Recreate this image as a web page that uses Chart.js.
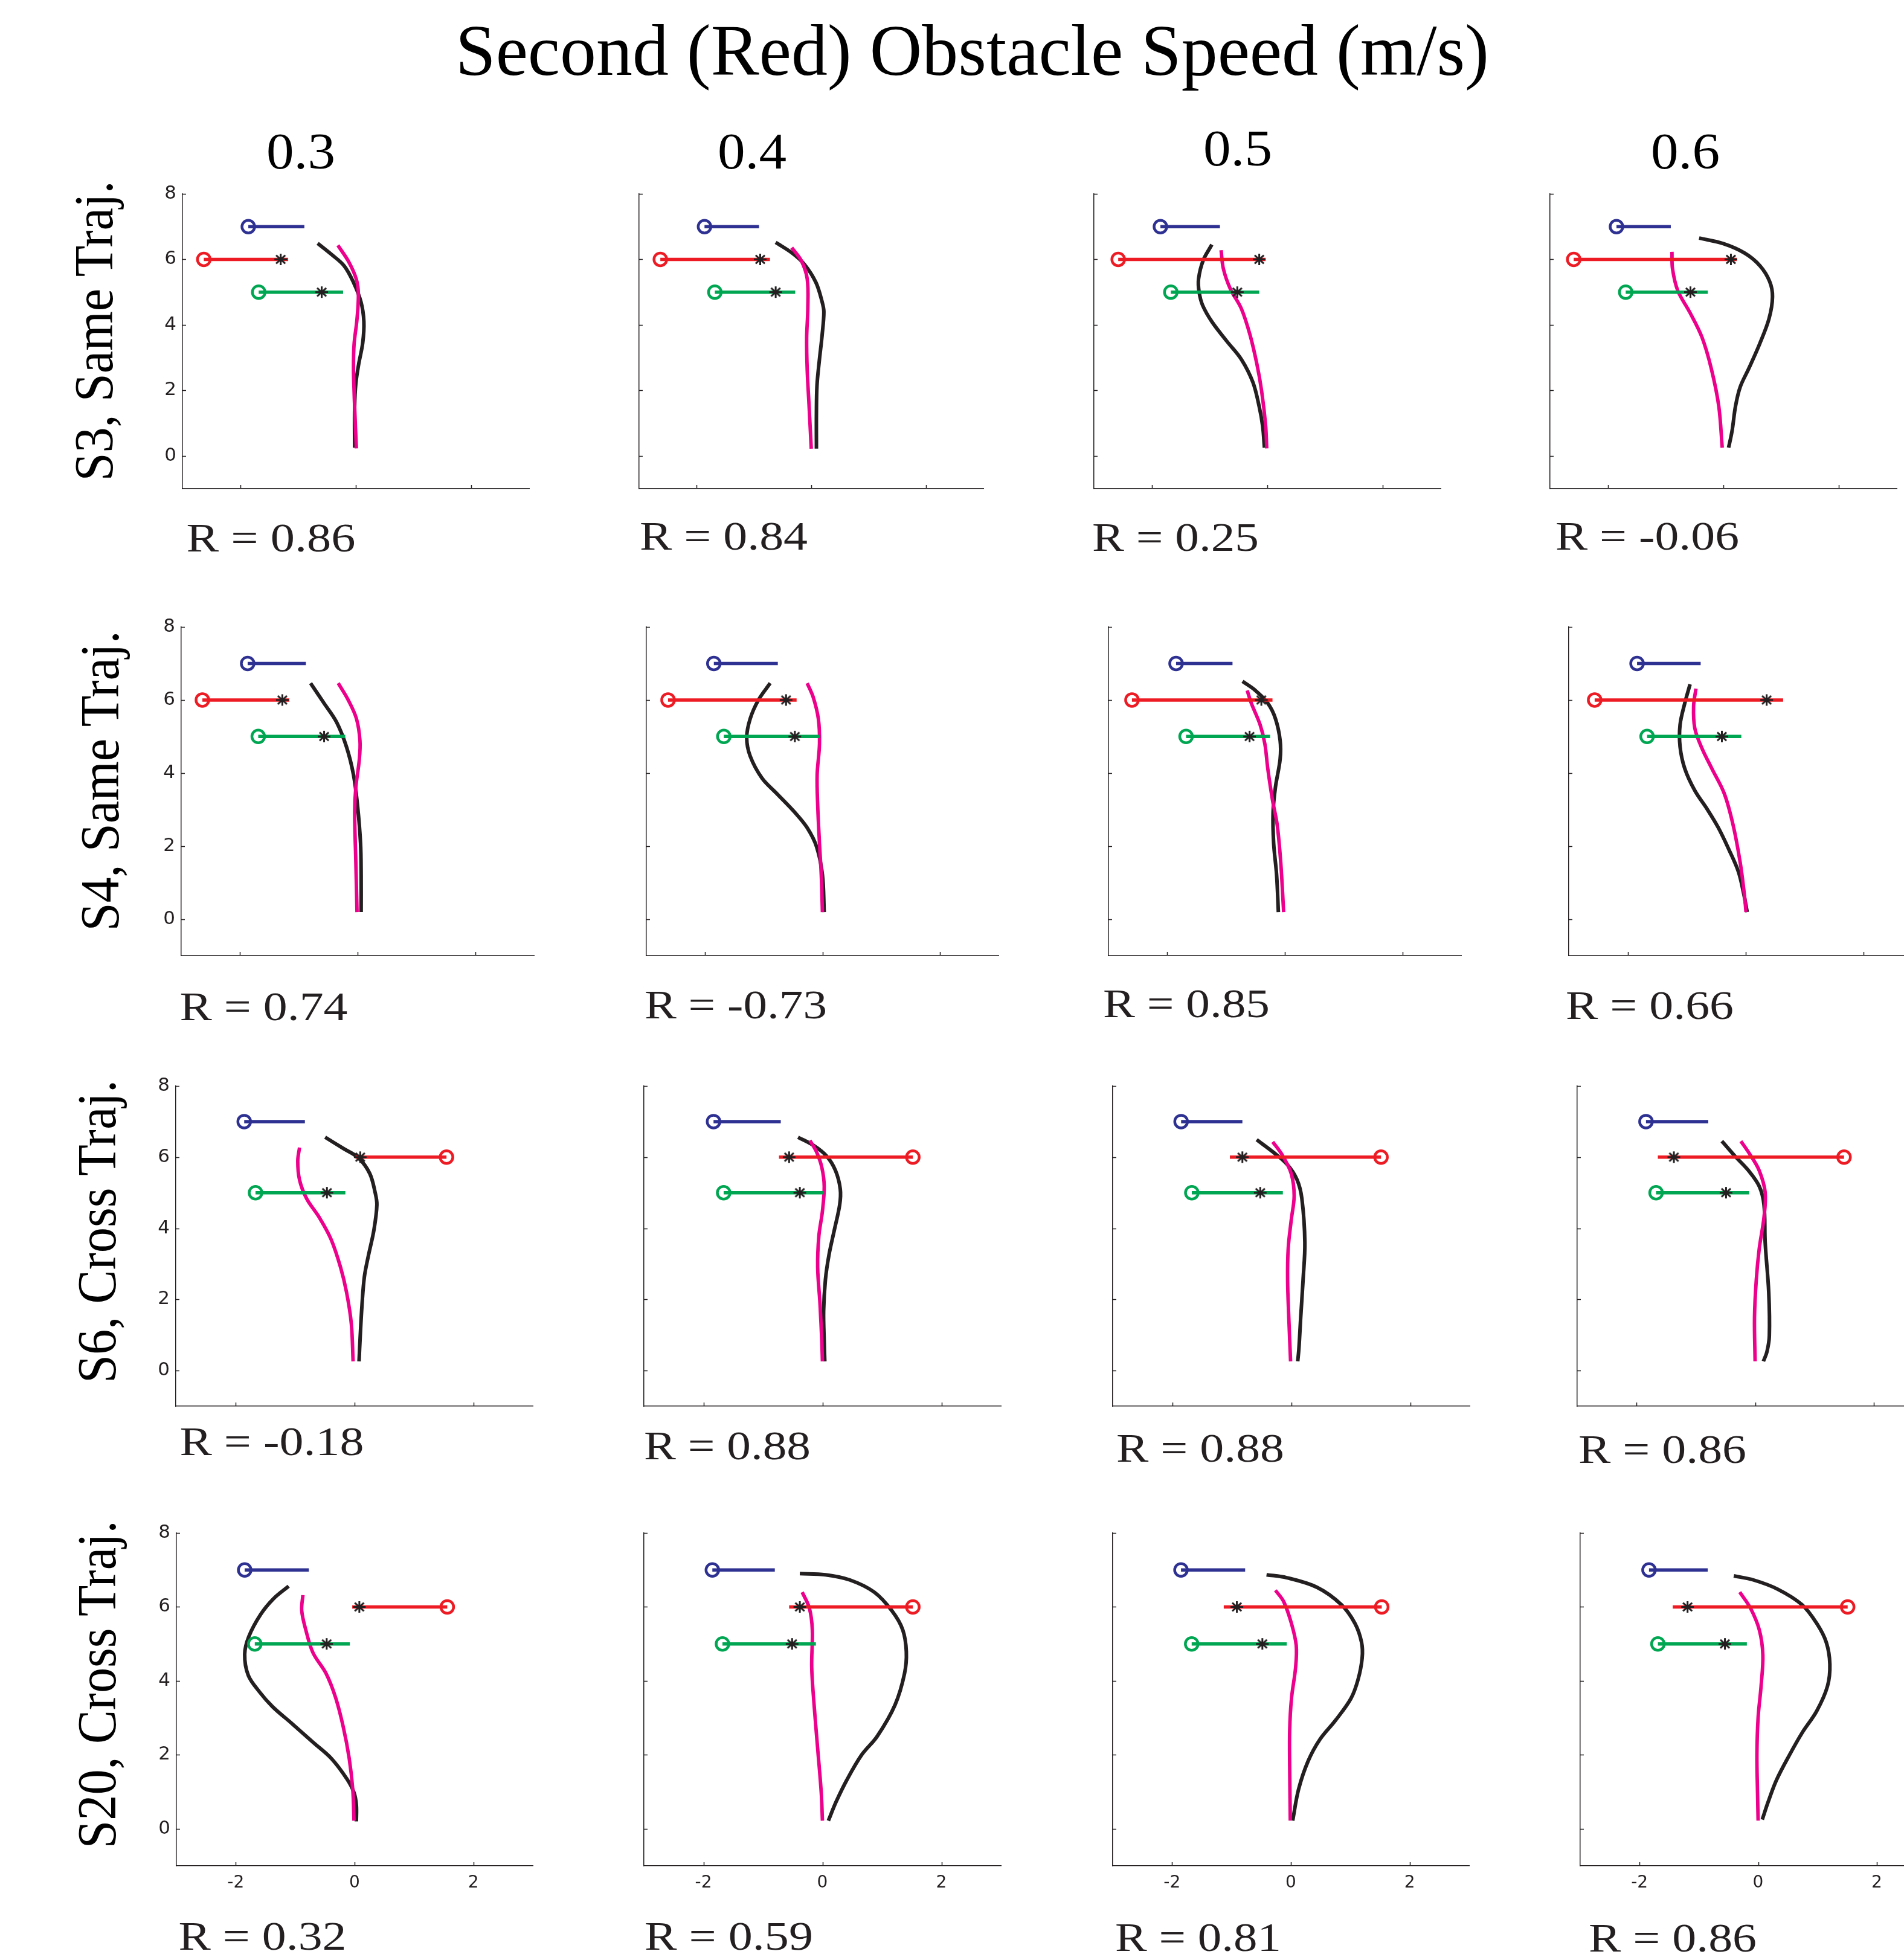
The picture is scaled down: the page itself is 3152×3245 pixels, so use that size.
<!DOCTYPE html>
<html lang="en">
<head>
<meta charset="utf-8">
<title>Second (Red) Obstacle Speed (m/s)</title>
<script src="https://cdn.jsdelivr.net/npm/chart.js@4.4.1/dist/chart.umd.min.js"></script>
<style>
  html, body { margin: 0; padding: 0; background: #fff; }
  body { position: relative; width: 3152px; height: 3245px; overflow: hidden; }
  canvas.panel { position: absolute; }
  #labels { position: absolute; left: 0; top: 0; pointer-events: none; }
  #labels text { font-family: "Liberation Serif", "Times New Roman", serif; }
</style>
</head>
<body>
<svg id="labels" width="3152" height="3245" xmlns="http://www.w3.org/2000/svg"></svg>
<script>
// ---- data (panels in reading order: row = subject, column = speed) ----
const speeds = ['0.3', '0.4', '0.5', '0.6'];
const subjects = ['S3, Same Traj.', 'S4, Same Traj.', 'S6, Cross Traj.', 'S20, Cross Traj.'];
const rValues = ['0.86', '0.84', '0.25', '-0.06',
                 '0.74', '-0.73', '0.85', '0.66',
                 '-0.18', '0.88', '0.88', '0.86',
                 '0.32', '0.59', '0.81', '0.86'];

const xTicks = [-2, 0, 2];
const xTickLabels = ['-2', '0', '2'];
const yTicks = [0, 2, 4, 6, 8];
const yTickLabels = ['0', '2', '4', '6', '8'];

// obstacles: circle end (start) and other end, star = crossing point
const blueStart = [-1.86, -1.86, -1.85, -1.85, -1.87, -1.85, -1.85, -1.84, -1.85, -1.83, -1.85, -1.84, -1.85, -1.85, -1.85, -1.84];
const blueEnd = [-0.89, -0.91, -0.82, -0.91, -0.88, -0.76, -0.89, -0.76, -0.83, -0.70, -0.82, -0.79, -0.77, -0.80, -0.77, -0.85];
const redStart = [-2.63, -2.63, -2.58, -2.59, -2.64, -2.63, -2.60, -2.56, 1.55, 1.52, 1.51, 1.50, 1.56, 1.52, 1.53, 1.51];
const redEnd = [-1.17, -0.72, -0.03, 0.23, -1.16, -0.44, -0.21, 0.64, 0.02, -0.73, -1.03, -1.64, -0.04, -0.56, -1.13, -1.44];
const redStar = [-1.30, -0.89, -0.14, 0.13, -1.28, -0.62, -0.40, 0.36, 0.10, -0.56, -0.82, -1.37, 0.08, -0.38, -0.91, -1.19];
const greenStart = [-1.68, -1.68, -1.67, -1.69, -1.69, -1.68, -1.68, -1.67, -1.66, -1.66, -1.67, -1.67, -1.68, -1.68, -1.67, -1.69];
const greenEnd = [-0.22, -0.28, -0.14, -0.27, -0.21, -0.05, -0.25, -0.07, -0.15, 0.02, -0.14, -0.10, -0.08, -0.11, -0.07, -0.19];
const greenStar = [-0.59, -0.62, -0.52, -0.57, -0.57, -0.47, -0.60, -0.40, -0.46, -0.38, -0.52, -0.49, -0.47, -0.51, -0.48, -0.56];

// black trajectories, [x, y]
const blackPaths = [
  [[-0.66, 6.49], [-0.42, 6.15], [-0.2, 5.8], [-0.04, 5.3], [0.09, 4.7], [0.14, 4.1], [0.12, 3.45], [0.05, 2.8], [0.0, 2.2], [-0.02, 1.5], [-0.02, 0.25]],
  [[-0.62, 6.52], [-0.33, 6.19], [-0.12, 5.85], [0.08, 5.3], [0.19, 4.7], [0.22, 4.4], [0.19, 3.7], [0.14, 2.9], [0.1, 2.15], [0.09, 1.3], [0.09, 0.22]],
  [[-0.96, 6.45], [-1.11, 5.97], [-1.19, 5.4], [-1.18, 5.0], [-1.12, 4.6], [-0.96, 4.1], [-0.7, 3.5], [-0.45, 2.95], [-0.25, 2.25], [-0.14, 1.5], [-0.08, 0.9], [-0.05, 0.25]],
  [[-0.42, 6.65], [0.0, 6.48], [0.37, 6.19], [0.63, 5.81], [0.8, 5.33], [0.85, 4.86], [0.79, 4.19], [0.63, 3.43], [0.44, 2.67], [0.29, 2.1], [0.21, 1.52], [0.15, 0.76], [0.09, 0.25]],
  [[-0.8, 6.46], [-0.57, 5.91], [-0.36, 5.4], [-0.19, 4.72], [-0.07, 3.95], [0.0, 3.09], [0.05, 2.07], [0.06, 1.21], [0.06, 0.19]],
  [[-0.89, 6.46], [-1.09, 6.0], [-1.23, 5.49], [-1.29, 4.97], [-1.23, 4.46], [-1.03, 3.86], [-0.78, 3.44], [-0.47, 2.92], [-0.26, 2.5], [-0.1, 1.98], [0.0, 1.21], [0.03, 0.19]],
  [[-0.72, 6.51], [-0.5, 6.26], [-0.29, 5.91], [-0.16, 5.49], [-0.08, 4.89], [-0.08, 4.38], [-0.16, 3.61], [-0.2, 2.92], [-0.19, 2.07], [-0.14, 1.21], [-0.11, 0.19]],
  [[-0.94, 6.43], [-1.03, 5.91], [-1.11, 5.32], [-1.11, 4.72], [-1.03, 4.12], [-0.86, 3.52], [-0.65, 3.01], [-0.46, 2.5], [-0.28, 1.9], [-0.12, 1.3], [-0.03, 0.7], [0.03, 0.19]],
  [[-0.49, 6.56], [-0.18, 6.24], [0.07, 5.98], [0.26, 5.54], [0.35, 5.01], [0.38, 4.66], [0.33, 3.95], [0.24, 3.25], [0.17, 2.64], [0.13, 1.85], [0.1, 0.97], [0.08, 0.26]],
  [[-0.41, 6.56], [-0.15, 6.33], [0.07, 6.03], [0.22, 5.62], [0.3, 5.1], [0.29, 4.66], [0.2, 3.95], [0.11, 3.25], [0.05, 2.55], [0.02, 1.67], [0.03, 0.79], [0.04, 0.26]],
  [[-0.58, 6.49], [-0.31, 6.15], [-0.07, 5.8], [0.1, 5.36], [0.18, 4.83], [0.23, 3.6], [0.2, 2.55], [0.16, 1.49], [0.13, 0.62], [0.11, 0.26]],
  [[-0.56, 6.45], [-0.34, 6.03], [-0.11, 5.62], [0.07, 5.18], [0.15, 4.66], [0.17, 3.6], [0.23, 2.2], [0.24, 0.97], [0.2, 0.53], [0.14, 0.26]],
  [[-1.11, 6.56], [-1.36, 6.23], [-1.58, 5.8], [-1.78, 5.2], [-1.85, 4.72], [-1.79, 4.15], [-1.6, 3.7], [-1.38, 3.3], [-1.05, 2.84], [-0.7, 2.34], [-0.39, 1.9], [-0.13, 1.35], [-0.01, 0.98], [0.03, 0.64], [0.03, 0.2]],
  [[-0.38, 6.9], [0.05, 6.87], [0.46, 6.73], [0.87, 6.4], [1.17, 5.89], [1.35, 5.38], [1.41, 4.79], [1.38, 4.2], [1.22, 3.35], [0.92, 2.5], [0.66, 2.0], [0.41, 1.32], [0.23, 0.73], [0.1, 0.22]],
  [[-0.41, 6.87], [-0.07, 6.79], [0.44, 6.53], [0.85, 6.06], [1.08, 5.55], [1.19, 5.04], [1.2, 4.62], [1.13, 4.03], [1.01, 3.52], [0.75, 2.93], [0.49, 2.42], [0.29, 1.83], [0.13, 1.07], [0.03, 0.22]],
  [[-0.41, 6.84], [-0.08, 6.73], [0.33, 6.48], [0.74, 6.06], [0.99, 5.55], [1.15, 5.04], [1.21, 4.45], [1.17, 3.86], [0.99, 3.19], [0.74, 2.59], [0.53, 2.0], [0.31, 1.32], [0.17, 0.73], [0.07, 0.25]]
];

// magenta trajectories, [x, y]
const magentaPaths = [
  [[-0.31, 6.43], [-0.12, 5.92], [0.01, 5.39], [0.045, 4.93], [0.02, 4.16], [-0.03, 3.4], [-0.04, 2.64], [-0.03, 2.0], [-0.02, 1.49], [0.01, 0.23]],
  [[-0.34, 6.36], [-0.17, 5.95], [-0.07, 5.4], [-0.06, 4.5], [-0.08, 3.6], [-0.07, 2.6], [-0.04, 1.6], [0.0, 0.22]],
  [[-0.8, 6.28], [-0.76, 5.71], [-0.64, 5.1], [-0.45, 4.5], [-0.3, 3.7], [-0.18, 2.8], [-0.1, 2.0], [-0.03, 0.95], [-0.01, 0.23]],
  [[-0.89, 6.23], [-0.88, 5.71], [-0.79, 5.05], [-0.58, 4.38], [-0.37, 3.62], [-0.21, 2.67], [-0.08, 1.52], [-0.02, 0.25]],
  [[-0.33, 6.46], [-0.16, 6.0], [-0.02, 5.49], [0.04, 4.89], [0.03, 4.38], [-0.03, 3.61], [-0.05, 2.92], [-0.03, 1.56], [-0.01, 0.19]],
  [[-0.26, 6.46], [-0.16, 6.09], [-0.07, 5.49], [-0.05, 4.8], [-0.09, 3.95], [-0.08, 3.09], [-0.05, 2.07], [-0.02, 1.21], [0.0, 0.19]],
  [[-0.64, 6.26], [-0.57, 5.91], [-0.42, 5.32], [-0.34, 4.8], [-0.29, 4.12], [-0.21, 3.26], [-0.13, 2.58], [-0.07, 1.56], [-0.02, 0.19]],
  [[-0.84, 6.31], [-0.88, 5.83], [-0.86, 5.23], [-0.75, 4.72], [-0.57, 4.12], [-0.36, 3.44], [-0.21, 2.58], [-0.09, 1.56], [-0.02, 0.7], [0.01, 0.19]],
  [[-0.92, 6.27], [-0.95, 5.89], [-0.92, 5.36], [-0.8, 4.83], [-0.59, 4.31], [-0.39, 3.69], [-0.23, 2.9], [-0.13, 2.2], [-0.05, 1.32], [-0.02, 0.26]],
  [[-0.21, 6.47], [-0.1, 6.15], [-0.01, 5.71], [0.03, 5.18], [0.0, 4.48], [-0.06, 3.78], [-0.08, 2.9], [-0.04, 1.85], [-0.01, 0.79], [0.0, 0.26]],
  [[-0.31, 6.43], [-0.15, 6.06], [0.0, 5.54], [0.05, 4.92], [0.0, 4.22], [-0.05, 3.43], [-0.06, 2.55], [-0.04, 1.49], [-0.01, 0.26]],
  [[-0.24, 6.45], [-0.08, 6.06], [0.07, 5.62], [0.17, 5.01], [0.15, 4.31], [0.07, 3.43], [0.02, 2.55], [-0.01, 1.49], [0.0, 0.26]],
  [[-0.87, 6.32], [-0.89, 5.9], [-0.82, 5.37], [-0.7, 4.76], [-0.48, 4.2], [-0.32, 3.55], [-0.19, 2.75], [-0.09, 1.9], [-0.03, 1.05], [-0.01, 0.22]],
  [[-0.34, 6.4], [-0.22, 5.97], [-0.17, 5.38], [-0.18, 4.37], [-0.14, 3.35], [-0.08, 2.17], [-0.02, 0.98], [0.0, 0.22]],
  [[-0.26, 6.45], [-0.12, 6.14], [0.01, 5.55], [0.09, 4.96], [0.08, 4.37], [0.01, 3.52], [-0.02, 2.67], [-0.02, 1.66], [-0.01, 0.22]],
  [[-0.31, 6.4], [-0.13, 5.97], [0.02, 5.38], [0.08, 4.7], [0.05, 3.86], [0.0, 3.01], [-0.02, 2.0], [-0.01, 0.98], [0.0, 0.22]]
];

// ---- layout (page pixels) ----
const rowTop = [320.6, 1037.5, 1798, 2538];
const rowBottom = [808.5, 1582, 2327.5, 3089];
const plotLeft = [302, 1057.7, 1810.5, 2566, 299.8, 1069.6, 1835.3, 2597, 290.5, 1066, 1842.3, 2611, 292, 1066, 1842.3, 2616];
const plotRight = [875.5, 1627.6, 2385, 3139.5, 883.5, 1653.2, 2418.5, 3182, 881.5, 1657, 2433.3, 3200, 881.5, 1657, 2432, 3205];

const rLeft = [309.5, 1060, 1809, 2576, 298.5, 1068, 1827, 2593, 298.5, 1067, 1849, 2614, 296.5, 1068, 1847, 2631];
const rBase = [913, 910, 912, 910, 1689, 1686, 1684, 1687, 2409, 2416, 2420, 2422, 3228, 3228, 3230, 3231];
const rWidth = [276, 274, 272, 300, 274, 298, 272, 274, 301, 272, 274, 274, 274, 275, 271, 274];

const headLeft = [441, 1188, 1992, 2733];
const headBase = [279, 279, 274, 279];
const subjectX = [186, 196, 191, 191];
const subjectY = [548, 1293, 2039, 2789];
const subjectLen = [497, 497, 502, 543];

const BLUE = '#2e3192';
const RED = '#ed1c24';
const GREEN = '#00a651';
const MAGENTA = '#ec008c';
const INK = '#231f20';

const PAD_L = 90, PAD_T = 30, PAD_R = 20, PAD_B = 80;
const TICK_LEN = 6;

Chart.defaults.font.family = '"DejaVu Sans", sans-serif';

// eight-armed asterisk used as the crossing marker
function makeAsterisk(w, h, lineWidth, color) {
    const c = document.createElement('canvas');
    c.width = w;
    c.height = h;
    const g = c.getContext('2d');
    g.strokeStyle = color;
    g.lineWidth = lineWidth;
    const rx = w / 2 - 1, ry = h / 2 - 1;
    g.translate(w / 2, h / 2);
    g.beginPath();
    g.moveTo(-rx, 0); g.lineTo(rx, 0);
    g.moveTo(0, -ry); g.lineTo(0, ry);
    g.moveTo(-rx * 0.72, -ry * 0.72); g.lineTo(rx * 0.72, ry * 0.72);
    g.moveTo(-rx * 0.72, ry * 0.72); g.lineTo(rx * 0.72, -ry * 0.72);
    g.stroke();
    return c;
}
const asterisk = makeAsterisk(23, 21, 3, INK);

// MATLAB style ticks pointing into the axes
const inwardTicks = {
    id: 'inwardTicks',
    afterDraw(chart) {
        const { ctx, chartArea, scales } = chart;
        ctx.save();
        ctx.strokeStyle = INK;
        ctx.lineWidth = 1.5;
        ctx.beginPath();
        xTicks.forEach(v => {
            const px = Math.round(scales.x.getPixelForValue(v)) + 0.5;
            ctx.moveTo(px, chartArea.bottom);
            ctx.lineTo(px, chartArea.bottom - TICK_LEN);
        });
        yTicks.forEach(v => {
            const py = Math.round(scales.y.getPixelForValue(v)) + 0.5;
            ctx.moveTo(chartArea.left, py);
            ctx.lineTo(chartArea.left + TICK_LEN, py);
        });
        ctx.stroke();
        ctx.restore();
    }
};

function obstacle(x0, x1, y, color) {
    return {
        data: [{ x: x0, y: y }, { x: x1, y: y }],
        showLine: true,
        borderColor: color,
        borderWidth: 5.5,
        pointRadius: [10.5, 0],
        pointBorderWidth: 4.5,
        pointBorderColor: color,
        pointBackgroundColor: 'rgba(0,0,0,0)'
    };
}

function trajectory(points, color, width) {
    return {
        data: points.map(p => ({ x: p[0], y: p[1] })),
        showLine: true,
        borderColor: color,
        borderWidth: width,
        pointRadius: 0,
        tension: 0.35
    };
}

function makePanel(i) {
    const row = Math.floor(i / 4);
    const col = i % 4;
    const left = Math.round(plotLeft[i]);
    const right = Math.round(plotRight[i]);
    const top = Math.round(rowTop[row]);
    const bottom = Math.round(rowBottom[row]);
    const w = right - left + PAD_L + PAD_R;
    const h = bottom - top + PAD_T + PAD_B;

    const canvas = document.createElement('canvas');
    canvas.className = 'panel';
    canvas.width = w;
    canvas.height = h;
    canvas.style.width = w + 'px';
    canvas.style.height = h + 'px';
    canvas.style.left = (left - PAD_L) + 'px';
    canvas.style.top = (top - PAD_T) + 'px';
    document.body.insertBefore(canvas, document.getElementById('labels'));

    const datasets = [
        {
            data: [{ x: redStar[i], y: 6 }, { x: greenStar[i], y: 5 }],
            pointStyle: asterisk,
            pointRadius: 8,
            showLine: false
        },
        obstacle(blueStart[i], blueEnd[i], 7, BLUE),
        obstacle(redStart[i], redEnd[i], 6, RED),
        obstacle(greenStart[i], greenEnd[i], 5, GREEN),
        trajectory(magentaPaths[i], MAGENTA, 5.8),
        trajectory(blackPaths[i], INK, 6)
    ];

    new Chart(canvas, {
        type: 'scatter',
        data: { datasets: datasets },
        options: {
            responsive: false,
            animation: false,
            devicePixelRatio: 1,
            events: [],
            layout: { padding: { top: PAD_T, right: PAD_R, left: 0, bottom: 0 } },
            plugins: { legend: { display: false }, tooltip: { enabled: false } },
            scales: {
                x: {
                    type: 'linear',
                    min: -3,
                    max: 3,
                    afterBuildTicks: s => { s.ticks = xTicks.map(v => ({ value: v })); },
                    afterFit: s => { s.height = PAD_B; },
                    grid: { display: false, drawTicks: false },
                    border: { display: true, color: INK, width: 1.5 },
                    ticks: {
                        display: row === 3,
                        autoSkip: false,
                        maxRotation: 0,
                        color: INK,
                        font: { size: 28 },
                        padding: 12,
                        callback: (v, idx) => xTickLabels[idx]
                    }
                },
                y: {
                    type: 'linear',
                    min: -1,
                    max: 8,
                    afterBuildTicks: s => { s.ticks = yTicks.map(v => ({ value: v })); },
                    afterFit: s => { s.width = PAD_L; },
                    grid: { display: false, drawTicks: false },
                    border: { display: true, color: INK, width: 1.5 },
                    ticks: {
                        display: col === 0,
                        autoSkip: false,
                        color: INK,
                        font: { size: 31 },
                        padding: 10,
                        callback: (v, idx) => yTickLabels[idx]
                    }
                }
            }
        },
        plugins: [inwardTicks]
    });
}

// ---- text ----
const svg = document.getElementById('labels');
const SVG_NS = 'http://www.w3.org/2000/svg';

function addText(str, attrs) {
    const t = document.createElementNS(SVG_NS, 'text');
    Object.keys(attrs).forEach(k => t.setAttribute(k, attrs[k]));
    t.textContent = str;
    svg.appendChild(t);
}

function drawLabels() {
    addText('Second (Red) Obstacle Speed (m/s)', {
        x: 754, y: 124, 'font-size': 120, fill: '#000',
        textLength: 1711, lengthAdjust: 'spacingAndGlyphs'
    });
    speeds.forEach((s, c) => {
        addText(s, {
            x: headLeft[c], y: headBase[c], 'font-size': 84, fill: '#000',
            textLength: 114, lengthAdjust: 'spacingAndGlyphs'
        });
    });
    subjects.forEach((s, r) => {
        addText(s, {
            x: 0, y: 0, 'font-size': 90, fill: '#000', 'text-anchor': 'middle',
            transform: 'translate(' + subjectX[r] + ',' + subjectY[r] + ') rotate(-90)',
            textLength: subjectLen[r], lengthAdjust: 'spacingAndGlyphs'
        });
    });
    rValues.forEach((v, i) => {
        addText('R = ' + v, {
            x: rLeft[i] - 1, y: rBase[i], 'font-size': 67, fill: INK,
            textLength: rWidth[i] + 4, lengthAdjust: 'spacingAndGlyphs'
        });
    });
}

for (let i = 0; i < 16; i++) {
    makePanel(i);
}
drawLabels();
</script>
</body>
</html>
